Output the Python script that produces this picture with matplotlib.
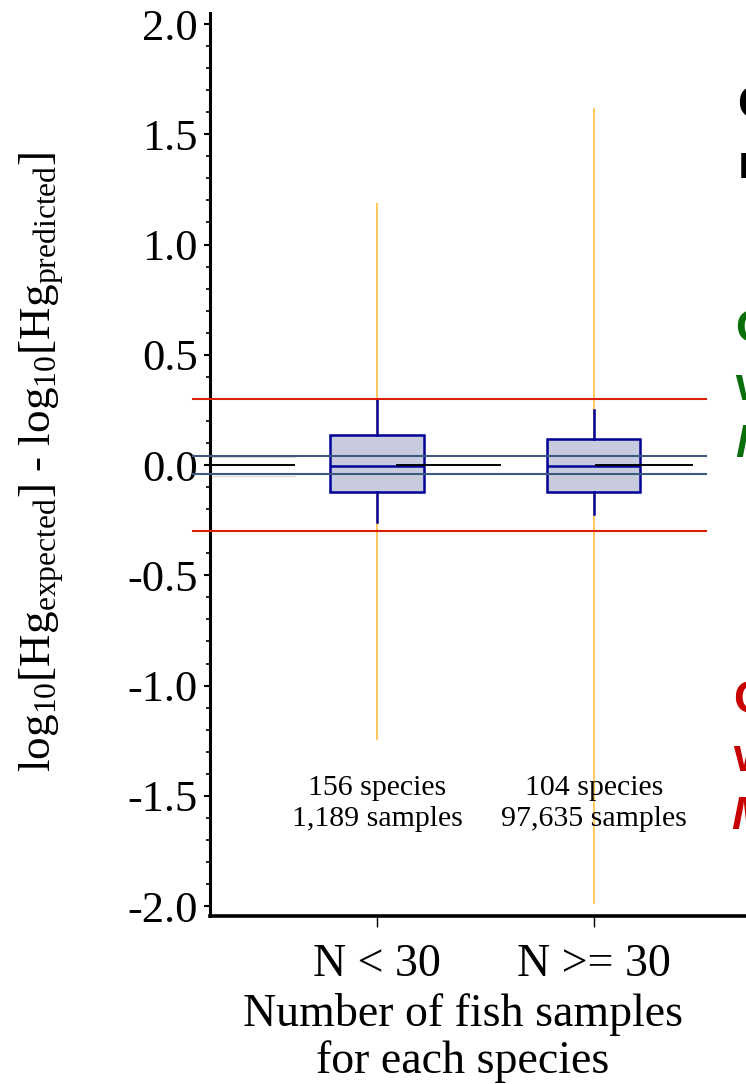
import numpy as np
import matplotlib
matplotlib.use("Agg")
import matplotlib.pyplot as plt
from matplotlib.ticker import MultipleLocator

plt.rcParams["font.family"] = ["Liberation Serif", "DejaVu Serif"]
plt.rcParams["mathtext.fontset"] = "custom"
plt.rcParams["mathtext.rm"] = "Liberation Serif"
plt.rcParams["mathtext.it"] = "Liberation Serif:italic"

# Data
groups = ["N < 30", "N >= 30"]
positions = [1, 2]
q1 = [-0.121, -0.120]
q3 = [0.137, 0.120]
medians = [-0.003, -0.003]
whisker_lo = [-0.260, -0.224]
whisker_hi = [0.297, 0.250]
range_lo = [-1.247, -1.99]
range_hi = [1.19, 1.62]
n_species = [156, 104]
n_samples = ["1,189", "97,635"]

red_limits = [0.30, -0.30]
blue_limits = [0.042, -0.042]
zero_segments = [(0.184, 0.617), (1.092, 1.567), (2.009, 2.452)]

W, H = 746, 1084
fig = plt.figure(figsize=(W / 100, H / 100), dpi=100)
ax = fig.add_axes([210 / W, 1 - 916 / H, 579 / W, (916 - 13) / H])

# full range lines (behind boxes)
ax.vlines(positions, range_lo, range_hi, color="#ffc85a", lw=1.4, zorder=1)

stats = []
for i in range(len(groups)):
    stats.append({"med": medians[i], "q1": q1[i], "q3": q3[i],
                  "whislo": whisker_lo[i], "whishi": whisker_hi[i], "fliers": []})
navy = "#000096"
ax.bxp(stats, positions=positions, widths=0.43, patch_artist=True,
       showcaps=False, showfliers=False,
       boxprops=dict(facecolor="#c8cade", edgecolor=navy, lw=1.8),
       whiskerprops=dict(color=navy, lw=1.8),
       medianprops=dict(color=navy, lw=1.8),
       manage_ticks=False, zorder=2)

# reference lines
for y in red_limits:
    ax.plot([0.152, 2.516], [y, y], color="#d82000", lw=1.5, zorder=3, clip_on=False)
for y in blue_limits:
    ax.plot([0.152, 2.516], [y, y], color="#3c5a7e", lw=1.5, zorder=3, clip_on=False)
    ax.plot([0.184, 0.62], [y - 0.007, y - 0.007], color="#dddddd", lw=1.0, zorder=2)
for x0, x1 in zero_segments:
    ax.plot([x0, x1], [0, 0], color="black", lw=1.4, zorder=4)

for i, p in enumerate(positions):
    ax.text(p, -1.535, f"{n_species[i]} species\n{n_samples[i]} samples",
            ha="center", va="center", fontsize=21.5, linespacing=1.25)

ax.set_xlim(0.23, 2.9)
ax.set_ylim(-2.045, 2.05)
ax.set_xticks(positions)
ax.set_xticklabels(groups, fontsize=33)
ax.yaxis.set_major_locator(MultipleLocator(0.5))
ax.yaxis.set_minor_locator(MultipleLocator(0.1))
ax.set_yticks(np.arange(-2.0, 2.01, 0.5))
ax.set_yticklabels([f"{v:.1f}" for v in np.arange(-2.0, 2.01, 0.5)], fontsize=32)
ax.tick_params(axis="y", which="major", length=4, width=1.5, pad=5)
ax.tick_params(axis="y", which="minor", length=3, width=1.2)
ax.tick_params(axis="x", which="major", length=8, width=1.0, pad=12)

for s in ["top", "right"]:
    ax.spines[s].set_visible(False)
ax.spines["left"].set_linewidth(2.2)
ax.spines["bottom"].set_linewidth(2.6)

fig.text(463 / W, 1 - 1038 / H, "Number of fish samples\nfor each species",
         ha="center", va="center", fontsize=33, linespacing=1.15)
fig.text(42 / W, 1 - 462 / H,
         r"log$_{10}$[Hg$_{\mathrm{expected}}$] - log$_{10}$[Hg$_{\mathrm{predicted}}$]",
         rotation=90, ha="center", va="center", fontsize=32.5)

# side notes (cut off at the right edge of the picture)
sans = ["Liberation Sans", "DejaVu Sans"]
fig.text(737 / W, 1 - 118 / H, "Comparison", color="black", fontsize=34,
         fontweight="bold", family=sans, va="baseline")
fig.text(738 / W, 1 - 178 / H, "results", color="black", fontsize=34,
         fontweight="bold", family=sans, va="baseline")
fig.text(735 / W, 1 - 342 / H, "Close", color="#0a6e0a", fontsize=34,
         fontweight="bold", family=sans, va="baseline")
fig.text(735 / W, 1 - 400 / H, "within", color="#0a6e0a", fontsize=34,
         fontweight="bold", family=sans, va="baseline")
fig.text(735 / W, 1 - 457 / H, "Median", color="#0a6e0a", fontsize=34,
         fontweight="bold", style="italic", family=sans, va="baseline")
fig.text(733 / W, 1 - 713 / H, "Cases", color="#c80000", fontsize=34,
         fontweight="bold", family=sans, va="baseline")
fig.text(733 / W, 1 - 771 / H, "within", color="#c80000", fontsize=34,
         fontweight="bold", family=sans, va="baseline")
fig.text(731 / W, 1 - 829 / H, "Mean", color="#c80000", fontsize=34,
         fontweight="bold", style="italic", family=sans, va="baseline")

fig.savefig("out.png", dpi=100)
